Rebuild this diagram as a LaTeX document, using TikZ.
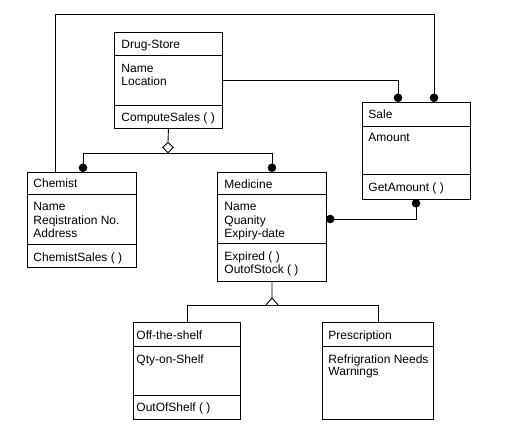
\documentclass[tikz,border=0pt]{standalone}
\usepackage{fontspec}
\setmainfont{Liberation Sans}
\usetikzlibrary{arrows.meta,shapes.geometric}
\begin{document}
\begin{tikzpicture}[x=1bp,y=-1bp,
  line width=0.9bp,
  classbox/.style={draw,rectangle,inner sep=0pt,anchor=north west},
  txt/.style={inner sep=0pt,anchor=base west,font=\fontsize{12bp}{14bp}\selectfont},
  dot/.style={-{Circle[length=8.5bp,width=8.5bp]}},
  dots/.style={{Circle[length=8.5bp,width=8.5bp]}-{Circle[length=8.5bp,width=8.5bp]}}
]
\useasboundingbox (0,0) rectangle (524,431);

% Drug-Store
\node[classbox,minimum width=108bp,minimum height=96bp] (ds) at (114,32) {};
\draw (114,55) -- (222,55);
\draw (114,105) -- (222,105);
\node[txt] (dsT) at (121,48) {Drug-Store};
\node[txt] (dsA1) at (121,72) {Name};
\node[txt] (dsA2) at (121,85) {Location};
\node[txt] (dsO1) at (121,121) {ComputeSales ( )};

% Sale
\node[classbox,minimum width=108bp,minimum height=97bp] (sale) at (362,102) {};
\draw (362,126) -- (470,126);
\draw (362,174) -- (470,174);
\node[txt] (saT) at (368,118.5) {Sale};
\node[txt] (saA1) at (368,141) {Amount};
\node[txt] (saO1) at (368,191) {GetAmount ( )};

% Chemist
\node[classbox,minimum width=109bp,minimum height=95bp] (ch) at (27,172) {};
\draw (27,194) -- (136,194);
\draw (27,244) -- (136,244);
\node[txt] (chT) at (33,187.5) {Chemist};
\node[txt] (chA1) at (33,210) {Name};
\node[txt] (chA2) at (33,224) {Reqistration No.};
\node[txt] (chA3) at (33,237) {Address};
\node[txt] (chO1) at (33,261) {ChemistSales ( )};

% Medicine
\node[classbox,minimum width=109bp,minimum height=109bp] (med) at (217,172) {};
\draw (217,194) -- (326,194);
\draw (217,243) -- (326,243);
\node[txt] (meT) at (224,188) {Medicine};
\node[txt] (meA1) at (224,210) {Name};
\node[txt] (meA2) at (224,224) {Quanity};
\node[txt] (meA3) at (224,237) {Expiry-date};
\node[txt] (meO1) at (224,260) {Expired ( )};
\node[txt] (meO2) at (224,273) {OutofStock ( )};

% Off-the-shelf
\node[classbox,minimum width=107bp,minimum height=97bp] (ots) at (133,322) {};
\draw (133,346) -- (240,346);
\draw (133,395) -- (240,395);
\node[txt] (otT) at (136,339) {Off-the-shelf};
\node[txt] (otA1) at (136,363.5) {Qty-on-Shelf};
\node[txt] (otO1) at (136,411.5) {OutOfShelf ( )};

% Prescription
\node[classbox,minimum width=111bp,minimum height=97bp] (pre) at (322,322) {};
\draw (322,346) -- (433,346);
\node[txt] (prT) at (328,339) {Prescription};
\node[txt] (prA1) at (328,363) {Refrigration Needs};
\node[txt] (prA2) at (328,375) {Warnings};

% connector coordinates
\coordinate (chD) at (83,172);
\coordinate (chL) at (55,172);
\coordinate (topL) at (55,14);
\coordinate (saleA) at (398,102);
\coordinate (saleB) at (434,102);
\coordinate (saleC) at (416,199);
\coordinate (medC) at (326,219);
\coordinate (inhA) at (272,298);
\coordinate (inhB) at (272,305);

% aggregation
\node[diamond,draw,fill=white,inner sep=0pt,minimum width=11bp,minimum height=11bp] (agg) at (168,147.5) {};
\draw (ds.south) -- (agg.north);
\draw[dot] (agg.south) -| (chD);
\draw[dot] (agg.south) -| (med.north);

% associations
\draw[dot] (ds.east) -| (saleA);
\draw[dot] (chL) -- (topL) -| (saleB);
\draw[dots] (saleC) |- (medC);

% inheritance
\draw (med.south) -- (inhA);
\draw (ots.north) |- (inhB) -| (pre.north);
\draw[fill=white,line join=miter] (266,305) -- (inhA) -- (278,305);
\end{tikzpicture}
\end{document}
